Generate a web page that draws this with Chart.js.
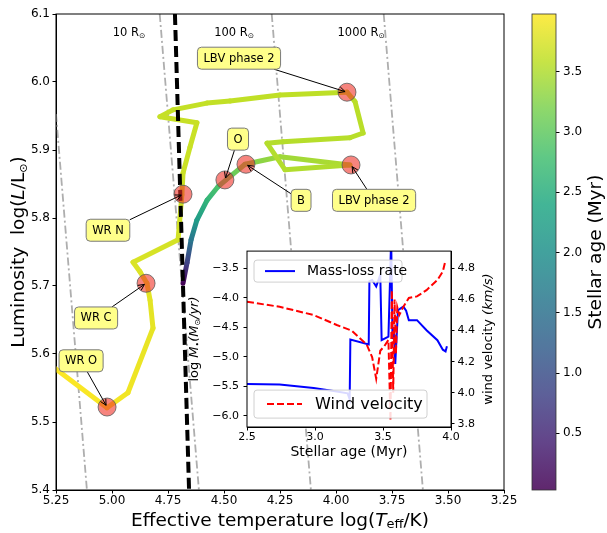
<!DOCTYPE html>
<html>
<head>
<meta charset="utf-8">
<script src="https://cdn.jsdelivr.net/npm/chart.js@4.4.1/dist/chart.umd.min.js"></script>
<style>
html, body { margin: 0; padding: 0; background: #fff; }
#wrap { position: relative; width: 607px; height: 533px; }
canvas { position: absolute; }
#main { left: 0; top: 0; }
#cbar { left: 500px; top: 0; }
#inset { left: 180px; top: 240px; }
</style>
</head>
<body>
<div id="wrap">
  <canvas id="main" width="607" height="533"></canvas>
  <canvas id="cbar" width="107" height="533"></canvas>
  <canvas id="inset" width="330" height="230"></canvas>
</div>
<script>
// evolutionary track: log Teff, log L, age (Myr)
var trackT = [4.683, 4.665, 4.647, 4.621, 4.576, 4.527, 4.491, 4.406, 4.250, 3.938, 4.228, 4.308, 4.237, 3.938, 3.879, 3.915, 3.951, 4.250, 4.473, 4.576, 4.728, 4.786, 4.621, 4.652, 4.683, 4.688, 4.705, 4.906, 4.875, 4.844, 4.830, 4.817, 4.929, 5.022, 5.300];
var trackL = [5.704, 5.734, 5.768, 5.797, 5.826, 5.846, 5.856, 5.879, 5.890, 5.878, 5.871, 5.910, 5.912, 5.918, 5.925, 5.971, 5.985, 5.981, 5.972, 5.969, 5.959, 5.949, 5.940, 5.904, 5.866, 5.834, 5.768, 5.735, 5.721, 5.704, 5.679, 5.638, 5.543, 5.521, 5.590];
var trackAge = [0.05, 0.8, 1.6, 2.2, 2.6, 2.85, 3.0, 3.2, 3.4, 3.5, 3.52, 3.53, 3.54, 3.55, 3.56, 3.57, 3.58, 3.6, 3.61, 3.62, 3.63, 3.64, 3.65, 3.66, 3.67, 3.68, 3.72, 3.76, 3.78, 3.8, 3.82, 3.84, 3.9, 3.94, 3.99];

// marked phases and their labels
var markT = [3.951, 3.933, 4.496, 4.402, 4.683, 4.848, 5.022];
var markL = [5.985, 5.878, 5.856, 5.879, 5.835, 5.704, 5.522];
var annText = ['LBV phase 2', 'LBV phase 2', 'O', 'B', 'WR N', 'WR C', 'WR O'];
var annT = [4.433, 3.830, 4.4375, 4.156, 5.018, 5.071, 5.138];
var annL = [6.035, 5.826, 5.916, 5.826, 5.782, 5.653, 5.590];

// constant radius lines (1, 10, 100, 1000 Rsun)
var radT = [[5.25, 5.112], [4.787, 4.612], [4.287, 4.112], [3.787, 3.612]];
var radL = [[5.953, 5.4], [6.1, 5.4], [6.1, 5.4], [6.1, 5.4]];
var radLabel = ['10 R', '100 R', '1000 R'];
var radLabelT = [4.924, 4.455, 3.888];
var radLabelL = [6.072, 6.072, 6.072];

// black dashed boundary
var boundT = [4.719, 4.656];
var boundL = [6.1, 5.4];

// inset: mass-loss rate and wind velocity vs age
var mdotAge = [2.50, 2.74, 2.99, 3.16, 3.24, 3.255, 3.26, 3.395, 3.40, 3.42, 3.45, 3.48, 3.49, 3.54, 3.56, 3.57, 3.58, 3.59, 3.61, 3.65, 3.67, 3.69, 3.75, 3.82, 3.90, 3.94, 3.96, 3.97];
var mdotVal = [-5.46, -5.47, -5.53, -5.59, -5.62, -5.72, -4.71, -4.79, -3.72, -3.70, -3.81, -3.61, -4.72, -4.66, -3.0, -4.70, -4.50, -5.12, -4.21, -4.15, -4.22, -4.38, -4.38, -4.55, -4.72, -4.88, -4.91, -4.82];
var windAge = [2.50, 2.74, 2.99, 3.16, 3.27, 3.38, 3.42, 3.45, 3.48, 3.51, 3.54, 3.555, 3.565, 3.575, 3.585, 3.595, 3.605, 3.62, 3.65, 3.69, 3.75, 3.82, 3.90, 3.94, 3.96];
var windVal = [4.585, 4.553, 4.50, 4.436, 4.40, 4.31, 4.23, 4.09, 4.27, 4.30, 4.34, 3.82, 4.66, 4.00, 4.60, 4.25, 4.55, 4.50, 4.553, 4.61, 4.62, 4.66, 4.725, 4.78, 4.853];

var ageMin = 0.03, ageMax = 3.98;
var cbTicks = [0.5, 1.0, 1.5, 2.0, 2.5, 3.0, 3.5];

Chart.defaults.font.family = "'DejaVu Sans', sans-serif";
Chart.defaults.color = '#000';
Chart.defaults.animation = false;

var VIR = ['#440154', '#482475', '#414487', '#355f8d', '#2a788e', '#21918c', '#22a884', '#44bf70', '#7ad151', '#bddf26', '#fde725'];
function hex2rgb(h) { return [parseInt(h.slice(1, 3), 16), parseInt(h.slice(3, 5), 16), parseInt(h.slice(5, 7), 16)]; }
function viridis(t, a) {
  t = Math.max(0, Math.min(1, t));
  var k = t * 10, i = Math.min(9, Math.floor(k)), f = k - i;
  var c0 = hex2rgb(VIR[i]), c1 = hex2rgb(VIR[i + 1]);
  var c = c0.map(function (v, j) { return Math.round(v + (c1[j] - v) * f); });
  return 'rgba(' + c[0] + ',' + c[1] + ',' + c[2] + ',' + (a == null ? 1 : a) + ')';
}
function ageNorm(a) { return (a - ageMin) / (ageMax - ageMin); }

// text made of parts (italic / subscript), centred at cx, cy
function richText(ctx, parts, cx, cy, size, rot) {
  ctx.save();
  ctx.translate(cx, cy);
  if (rot) ctx.rotate(rot);
  ctx.textBaseline = 'middle';
  ctx.textAlign = 'left';
  ctx.fillStyle = '#000';
  var fonts = parts.map(function (p) { return (p.it ? 'italic ' : '') + (size * (p.s || 1)) + "px 'DejaVu Sans'"; });
  var w = 0;
  parts.forEach(function (p, i) { ctx.font = fonts[i]; w += ctx.measureText(p.t).width; });
  var x = -w / 2;
  parts.forEach(function (p, i) {
    ctx.font = fonts[i];
    ctx.fillText(p.t, x, (p.dy || 0) * size);
    x += ctx.measureText(p.t).width;
  });
  ctx.restore();
}

function roundBox(ctx, x, y, w, h, r) {
  ctx.beginPath();
  ctx.moveTo(x + r, y);
  ctx.lineTo(x + w - r, y); ctx.quadraticCurveTo(x + w, y, x + w, y + r);
  ctx.lineTo(x + w, y + h - r); ctx.quadraticCurveTo(x + w, y + h, x + w - r, y + h);
  ctx.lineTo(x + r, y + h); ctx.quadraticCurveTo(x, y + h, x, y + h - r);
  ctx.lineTo(x, y + r); ctx.quadraticCurveTo(x, y, x + r, y);
  ctx.closePath();
}

var mainDeco = {
  id: 'mainDeco',
  afterDatasetsDraw: function (chart) {
    var ctx = chart.ctx, xs = chart.scales.x, ys = chart.scales.y;
    // radius labels
    for (var i = 0; i < radLabel.length; i++) {
      richText(ctx, [{ t: radLabel[i] }, { t: '⊙', s: 0.65, dy: 0.3 }],
        xs.getPixelForValue(radLabelT[i]), ys.getPixelForValue(radLabelL[i]), 11.5);
    }
    // annotations
    ctx.save();
    ctx.font = "11.5px 'DejaVu Sans'";
    for (var k = 0; k < annText.length; k++) {
      var lx = xs.getPixelForValue(annT[k]), ly = ys.getPixelForValue(annL[k]);
      var tx = xs.getPixelForValue(markT[k]), ty = ys.getPixelForValue(markL[k]);
      var bw = ctx.measureText(annText[k]).width + 12, bh = 22;
      var dx = tx - lx, dy = ty - ly, len = Math.hypot(dx, dy);
      var t = Math.min(Math.abs(dx) > 0 ? (bw / 2) / Math.abs(dx) : 1e9, Math.abs(dy) > 0 ? (bh / 2) / Math.abs(dy) : 1e9);
      var sx = lx + dx * t, sy = ly + dy * t;
      var ux = dx / len, uy = dy / len;
      var ex = tx - ux * 2, ey = ty - uy * 2;
      ctx.strokeStyle = '#000';
      ctx.lineWidth = 1;
      ctx.beginPath();
      ctx.moveTo(sx, sy); ctx.lineTo(ex, ey);
      ctx.moveTo(ex - ux * 6 - uy * 3, ey - uy * 6 + ux * 3); ctx.lineTo(ex, ey);
      ctx.lineTo(ex - ux * 6 + uy * 3, ey - uy * 6 - ux * 3);
      ctx.stroke();
      roundBox(ctx, lx - bw / 2, ly - bh / 2, bw, bh, 4);
      ctx.fillStyle = '#ffff8a';
      ctx.fill();
      ctx.strokeStyle = '#7a7a7a';
      ctx.stroke();
      ctx.fillStyle = '#000';
      ctx.textAlign = 'center';
      ctx.textBaseline = 'middle';
      ctx.fillText(annText[k], lx, ly + 0.5);
    }
    ctx.restore();
  },
  afterDraw: function (chart) {
    var ctx = chart.ctx, a = chart.chartArea;
    ctx.save();
    ctx.strokeStyle = '#000';
    ctx.lineWidth = 1;
    ctx.strokeRect(a.left, a.top, a.right - a.left, a.bottom - a.top);
    ctx.restore();
    richText(ctx, [{ t: 'Effective temperature log(' }, { t: 'T', it: 1 }, { t: 'eff', s: 0.7, dy: 0.22 }, { t: '/K)' }],
      (a.left + a.right) / 2, 521, 18.5);
    richText(ctx, [{ t: 'Luminosity  log(' }, { t: 'L', it: 1 }, { t: '/L' }, { t: '⊙', s: 0.6, dy: 0.25 }, { t: ')' }],
      19, (a.top + a.bottom) / 2, 18.5, -Math.PI / 2);
  }
};

function pts(xa, ya) { return xa.map(function (v, i) { return { x: v, y: ya[i] }; }); }

var axisGrid = { drawOnChartArea: false, drawTicks: true, tickLength: 3.5, color: '#000', tickColor: '#000' };

var mainSets = [
  { data: pts(markT, markL), showLine: false, pointRadius: 9, pointBackgroundColor: 'rgba(240,50,40,0.6)', pointBorderColor: 'rgba(90,90,90,0.8)', pointBorderWidth: 1 },
  { data: pts(boundT, boundL), showLine: true, borderColor: '#000', borderWidth: 4, borderDash: [11, 5], pointRadius: 0 },
  { data: pts(trackT, trackL), showLine: true, borderWidth: 5, pointRadius: 0, borderCapStyle: 'round', borderJoinStyle: 'round',
    segment: {
      borderColor: function (c) {
        var g = c.chart.ctx.createLinearGradient(c.p0.x, c.p0.y, c.p1.x, c.p1.y);
        g.addColorStop(0, viridis(ageNorm(trackAge[c.p0DataIndex])));
        g.addColorStop(1, viridis(ageNorm(trackAge[c.p1DataIndex])));
        return g;
      },
      borderDashOffset: function (c) { return c.p0DataIndex * 0.001; }
    } }
];
radT.forEach(function (r, i) {
  mainSets.push({ data: pts(r, radL[i]), showLine: true, borderColor: 'rgba(165,165,165,0.9)', borderWidth: 1.8, borderDash: [8, 3, 2, 3], pointRadius: 0 });
});

new Chart(document.getElementById('main'), {
  type: 'scatter',
  data: { datasets: mainSets },
  options: {
    responsive: false,
    layout: { padding: { left: 0, top: 14, right: 103, bottom: 0 } },
    plugins: { legend: { display: false }, tooltip: { enabled: false } },
    scales: {
      x: {
        type: 'linear', reverse: true, min: 3.25, max: 5.25,
        ticks: { stepSize: 0.25, autoSkip: false, maxRotation: 0, padding: 0, font: { size: 12 }, callback: function (v) { return v.toFixed(2); } },
        grid: axisGrid, border: { color: '#000', width: 1 },
        afterFit: function (s) { s.height = 43; }
      },
      y: {
        type: 'linear', min: 5.4, max: 6.1,
        ticks: { stepSize: 0.1, padding: 2.5, font: { size: 12 }, callback: function (v) { return v.toFixed(1); } },
        grid: axisGrid, border: { color: '#000', width: 1 },
        afterFit: function (s) { s.width = 56; }
      }
    }
  },
  plugins: [mainDeco]
});

// colour bar
var cbarDeco = {
  id: 'cbarDeco',
  afterDraw: function (chart) {
    var ctx = chart.ctx, a = chart.chartArea;
    ctx.save();
    ctx.strokeStyle = '#333';
    ctx.lineWidth = 0.8;
    ctx.strokeRect(a.left, a.top, a.right - a.left, a.bottom - a.top);
    ctx.restore();
    richText(ctx, [{ t: 'Stellar age (Myr)' }], 96, (a.top + a.bottom) / 2, 18.5, -Math.PI / 2);
  }
};

new Chart(document.getElementById('cbar'), {
  type: 'bar',
  data: {
    labels: [''],
    datasets: [{
      data: [[ageMin, ageMax]], borderWidth: 0, barPercentage: 1, categoryPercentage: 1,
      backgroundColor: function (c) {
        var a = c.chart.chartArea;
        if (!a) return '#888';
        var g = c.chart.ctx.createLinearGradient(0, a.bottom, 0, a.top);
        for (var i = 0; i <= 10; i++) g.addColorStop(i / 10, viridis(i / 10, 0.85));
        return g;
      }
    }]
  },
  options: {
    responsive: false,
    layout: { padding: { left: 32, top: 14, bottom: 43, right: 0 } },
    plugins: { legend: { display: false }, tooltip: { enabled: false } },
    scales: {
      x: { display: false },
      y: {
        position: 'right', min: ageMin, max: ageMax,
        afterBuildTicks: function (s) { s.ticks = cbTicks.map(function (v) { return { value: v }; }); },
        ticks: { padding: 3.5, font: { size: 12 }, callback: function (v) { return v.toFixed(1); } },
        grid: axisGrid, border: { display: false },
        afterFit: function (s) { s.width = 51; }
      }
    }
  },
  plugins: [cbarDeco]
});

// inset
function minus(v) { return (v < 0 ? '\u2212' : '') + Math.abs(v).toFixed(1); }

var insetDeco = {
  id: 'insetDeco',
  beforeDatasetsDraw: function (chart) {
    var ctx = chart.ctx, a = chart.chartArea;
    ctx.save();
    ctx.fillStyle = '#fff';
    ctx.fillRect(a.left, a.top, a.right - a.left, a.bottom - a.top);
    ctx.restore();
  },
  afterDraw: function (chart) {
    var ctx = chart.ctx, a = chart.chartArea;
    ctx.save();
    ctx.strokeStyle = '#000';
    ctx.lineWidth = 1;
    ctx.strokeRect(a.left, a.top, a.right - a.left, a.bottom - a.top);
    // legend boxes
    var boxes = [
      { x: a.left + 7, y: a.top + 9, w: 148, h: 22, label: 'Mass-loss rate', size: 14, color: '#0000ff', dash: [], lx0: 11, lx1: 41, tx: 53 },
      { x: a.left + 7, y: a.top + 139, w: 173, h: 28, label: 'Wind velocity', size: 16, color: '#ff0000', dash: [7, 3], lx0: 13, lx1: 48, tx: 61 }
    ];
    boxes.forEach(function (b) {
      roundBox(ctx, b.x, b.y, b.w, b.h, 3);
      ctx.fillStyle = 'rgba(255,255,255,0.85)';
      ctx.fill();
      ctx.strokeStyle = '#d0d0d0';
      ctx.lineWidth = 1;
      ctx.setLineDash([]);
      ctx.stroke();
      ctx.strokeStyle = b.color;
      ctx.lineWidth = 2;
      ctx.setLineDash(b.dash);
      ctx.beginPath();
      ctx.moveTo(b.x + b.lx0, b.y + b.h / 2);
      ctx.lineTo(b.x + b.lx1, b.y + b.h / 2);
      ctx.stroke();
      ctx.setLineDash([]);
      ctx.fillStyle = '#000';
      ctx.font = b.size + "px 'DejaVu Sans'";
      ctx.textAlign = 'left';
      ctx.textBaseline = 'middle';
      ctx.fillText(b.label, b.x + b.tx, b.y + b.h / 2 + 0.5);
    });
    ctx.restore();
    richText(ctx, [{ t: 'Stellar age (Myr)' }], (a.left + a.right) / 2, 212, 14);
    richText(ctx, [{ t: 'log ' }, { t: 'M', it: 1 }, { t: '\u2022', s: 0.6, dy: 0.2 }, { t: '(M', it: 1 }, { t: '⊙', s: 0.6, dy: 0.25 }, { t: '/yr)', it: 1 }],
      15, (a.top + a.bottom) / 2, 13, -Math.PI / 2);
    richText(ctx, [{ t: 'wind velocity ' }, { t: '(km/s)', it: 1 }], 309, (a.top + a.bottom) / 2, 13, -Math.PI / 2);
  }
};

new Chart(document.getElementById('inset'), {
  type: 'line',
  data: {
    datasets: [
      { data: pts(windAge, windVal), yAxisID: 'y2', borderColor: '#ff0000', borderWidth: 2, borderDash: [7, 3], pointRadius: 0, tension: 0 },
      { data: pts(mdotAge, mdotVal), yAxisID: 'y', borderColor: '#0000ff', borderWidth: 2, pointRadius: 0, tension: 0 }
    ]
  },
  options: {
    responsive: false,
    layout: { padding: { top: 11, left: 0, right: 0, bottom: 0 } },
    plugins: { legend: { display: false }, tooltip: { enabled: false } },
    scales: {
      x: {
        type: 'linear', min: 2.5, max: 4.0,
        ticks: { stepSize: 0.5, padding: 0.5, maxRotation: 0, font: { size: 11 }, callback: function (v) { return v.toFixed(1); } },
        grid: axisGrid, border: { color: '#000' },
        afterFit: function (s) { s.height = 43; }
      },
      y: {
        position: 'left', min: -6.19, max: -3.21,
        ticks: { stepSize: 0.5, includeBounds: false, padding: 4.5, font: { size: 11 }, callback: minus },
        grid: axisGrid, border: { color: '#000' },
        afterFit: function (s) { s.width = 67; }
      },
      y2: {
        position: 'right', min: 3.78, max: 4.911,
        ticks: { stepSize: 0.2, includeBounds: false, padding: 3, font: { size: 11 }, callback: function (v) { return v.toFixed(1); } },
        grid: axisGrid, border: { color: '#000' },
        afterFit: function (s) { s.width = 59; }
      }
    }
  },
  plugins: [insetDeco]
});
</script>
</body>
</html>
